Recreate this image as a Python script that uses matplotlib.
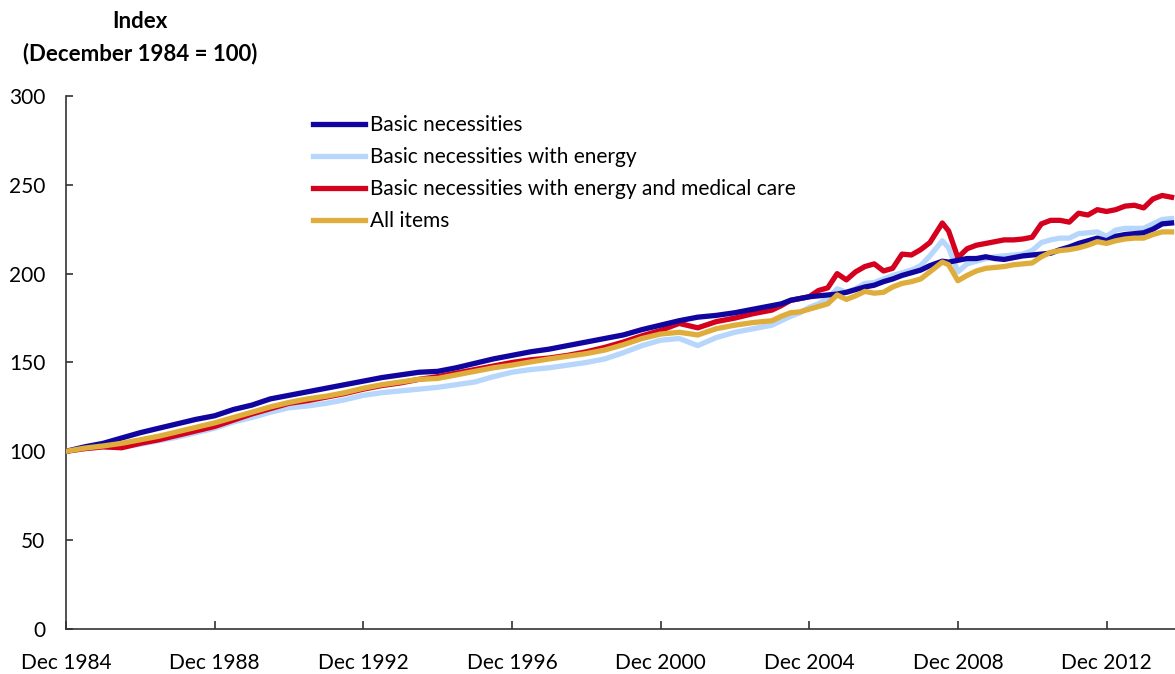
import pandas as pd
import matplotlib.pyplot as plt

# sample months (end of series values)
months = [
    "1984-12", "1985-06", "1985-12", "1986-06", "1986-12", "1987-06", "1987-12",
    "1988-06", "1988-12", "1989-06", "1989-12", "1990-06", "1990-12", "1991-06",
    "1991-12", "1992-06", "1992-12", "1993-06", "1993-12", "1994-06", "1994-12",
    "1995-06", "1995-12", "1996-06", "1996-12", "1997-06", "1997-12", "1998-06",
    "1998-12", "1999-06", "1999-12", "2000-06", "2000-12", "2001-06", "2001-12",
    "2002-06", "2002-12", "2003-06", "2003-12",
    "2004-03", "2004-06", "2004-09", "2004-12", "2005-03", "2005-06", "2005-09",
    "2005-12", "2006-03", "2006-06", "2006-09", "2006-12", "2007-03", "2007-06",
    "2007-09", "2007-12", "2008-03", "2008-07", "2008-09", "2008-12", "2009-03",
    "2009-06", "2009-09", "2009-12", "2010-03", "2010-06", "2010-09", "2010-12",
    "2011-03", "2011-06", "2011-09", "2011-12", "2012-03", "2012-06", "2012-09",
    "2012-12", "2013-03", "2013-06", "2013-09", "2013-12", "2014-03", "2014-06",
    "2014-09",
]

basic = [
    100, 102.5, 104.5, 107.5, 110.5, 113, 115.5,
    118, 120, 123.5, 126, 129.5, 131.5, 133.5,
    135.5, 137.5, 139.5, 141.5, 143, 144.5, 145,
    147, 149.5, 152, 154, 156, 157.5, 159.5,
    161.5, 163.5, 165.5, 168.5, 171, 173.5, 175.5,
    176.5, 178, 180, 182,
    183, 185, 186, 187, 187.5, 188, 188.5,
    189.5, 191, 192.5, 193.5, 195.5, 197, 199,
    200.5, 202, 204.5, 207, 206.5, 207.5, 208.5,
    208.5, 209.5, 208.5, 208, 209, 210, 210.5,
    211, 211.5, 213.5, 215, 217, 218.5, 220,
    218.5, 221, 222, 222.5, 223, 225, 228,
    228.5,
]

basic_energy = [
    100, 101.5, 102.5, 102.5, 104, 106, 108,
    110.5, 113, 116.5, 119, 122, 124.5, 125.5,
    127, 129, 131.5, 133, 134, 135, 136,
    137.5, 139, 142, 144.5, 146, 147, 148.5,
    150, 152, 155.5, 159.5, 162.5, 163.5, 159.5,
    164, 167, 169, 171,
    173.5, 176, 178, 181, 183, 186, 191.5,
    189.5, 191.5, 194.5, 195, 197, 199, 200.5,
    202, 204.5, 210, 218.5, 214.5, 201, 205.5,
    207, 208.5, 209.5, 210, 210.5, 211, 213,
    217.5, 219, 220, 220, 222.5, 223, 223.5,
    221, 224.5, 225.5, 225.5, 225.5, 228, 230.5,
    231,
]

basic_energy_medical = [
    100, 101.5, 102.5, 102, 104.5, 106.5, 109,
    111.5, 114, 117.5, 121, 124, 127, 128.5,
    130.5, 132.5, 135, 137, 138.5, 140.5, 142,
    144, 146, 148, 150, 151.5, 152.5, 154,
    156, 158.5, 161.5, 165, 168, 172, 169.5,
    173, 175, 177.5, 179.5,
    182, 185, 186, 187, 190.5, 192, 200,
    196.5, 201, 204, 205.5, 201.5, 203, 211,
    210.5, 213.5, 217.5, 228.5, 224, 209, 214,
    216, 217, 218, 219, 219, 219.5, 220.5,
    228, 230, 230, 229, 234, 233, 236,
    235, 236, 238, 238.5, 237, 242, 244,
    243,
]

all_items = [
    100, 101.8, 103, 104.5, 106.5, 108.5, 111,
    113.5, 116, 119, 122, 125, 127.5, 129.5,
    131, 133, 135.5, 137.5, 139, 140.5, 141,
    143, 145, 147, 148.5, 150.3, 152, 153.5,
    155, 157, 160, 163.5, 166, 167, 165.5,
    169, 171, 172.5, 173.5,
    176, 178, 178.5, 180, 181.5, 183, 188,
    185.5, 187.5, 190, 189, 189.5, 192.5, 194.5,
    195.5, 197, 201, 206.5, 205, 196, 199,
    201.5, 203, 203.5, 204, 205, 205.5, 206,
    209.5, 212, 213, 213.5, 214.5, 216, 218,
    217, 218.5, 219.5, 220, 220, 222, 223.5,
    223.5,
]

tick_months = ["1984-12", "1988-12", "1992-12", "1996-12", "2000-12", "2004-12", "2008-12", "2012-12"]
tick_labels = ["Dec 1984", "Dec 1988", "Dec 1992", "Dec 1996", "Dec 2000", "Dec 2004", "Dec 2008", "Dec 2012"]

plt.rcParams['font.family'] = ['Lato', 'DejaVu Sans']

dates = pd.to_datetime(months)

fig = plt.figure(figsize=(11.75, 6.74), dpi=100)
ax = fig.add_axes([0.0562, 0.0668, 0.9438, 0.7908])

lw = 3.8
ax.plot(dates, basic_energy, color="#b7d6fb", linewidth=lw, label="Basic necessities with energy", zorder=2)
ax.plot(dates, basic_energy_medical, color="#d4001e", linewidth=lw, label="Basic necessities with energy and medical care", zorder=3)
ax.plot(dates, basic, color="#10069f", linewidth=lw, label="Basic necessities", zorder=4)
ax.plot(dates, all_items, color="#dfad3c", linewidth=lw, label="All items", zorder=5)

ax.set_ylim(0, 300)
ax.set_yticks([0, 50, 100, 150, 200, 250, 300])
ax.set_xlim(pd.Timestamp("1984-12-01"), pd.Timestamp("2014-10-05"))
ax.set_xticks(pd.to_datetime(tick_months))
ax.set_xticklabels(tick_labels)

for s in ["top", "right"]:
    ax.spines[s].set_visible(False)
for s in ["left", "bottom"]:
    ax.spines[s].set_color("#333333")
    ax.spines[s].set_linewidth(1.2)

ax.tick_params(axis="x", direction="in", length=6, width=1.2, color="#333333", pad=17, labelsize=15)
ax.tick_params(axis="y", direction="in", length=5, width=1.2, color="#333333", pad=15, labelsize=15)

handles, labels = ax.get_legend_handles_labels()
order = [2, 0, 1, 3]
ax.legend([handles[i] for i in order], [labels[i] for i in order],
          loc="upper left", bbox_to_anchor=(0.2596, 0.841), bbox_transform=fig.transFigure,
          frameon=False, fontsize=15, handlelength=2.5, handletextpad=0.2,
          labelspacing=0.57, borderaxespad=0)

fig.text(0.119, 0.968, "Index", ha="center", va="center", fontsize=16, fontweight="bold")
fig.text(0.119, 0.921, "(December 1984 = 100)", ha="center", va="center", fontsize=16, fontweight="bold")

fig.savefig("out.png", dpi=100)
